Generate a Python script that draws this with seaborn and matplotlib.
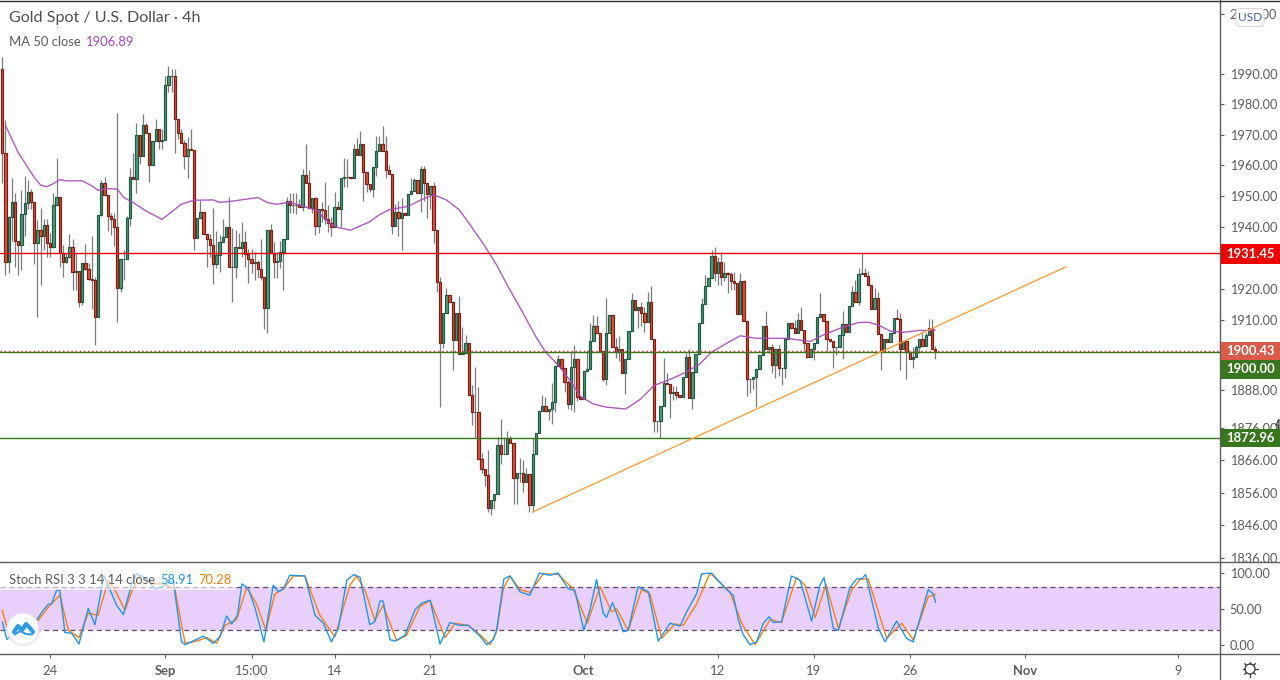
import numpy as np, pandas as pd, matplotlib
matplotlib.use("Agg")
import matplotlib.pyplot as plt
from matplotlib.patches import Rectangle, FancyBboxPatch, Circle
import seaborn as sns

first_open = 1991.8
close = [1964.1,1928.8,1943.3,1948,1935.3,1934,1944.2,1947.6,1951.4,1948,1934.8,1939,1937,1940.7,1934.8,1933.5,1947,1949.5,1931.5,1928.8,
1930.2,1933.5,1925.5,1925.7,1915.8,1928.3,1926.3,1923.3,1923,1911.2,1943.7,1954.3,1950.4,1943.5,1942.6,1939.9,1920.4,1929.6,1929.6,1943,
1956.3,1955.6,1970,1963,1973.3,1970.7,1960.1,1968,1972,1968,1968.3,1986.3,1989.2,1989.3,1975.2,1970.7,1967.4,1963,1965.4,1965.1,
1936.4,1942.9,1944.9,1937.7,1935.9,1934.2,1927.9,1930.9,1935,1936.7,1940,1927.2,1926.9,1933.5,1933,1935,1931.3,1929.6,1928.3,1928.5,
1926.3,1923.7,1913.9,1939,1931.5,1928.8,1929,1931.8,1936,1948.4,1947,1947,1947,1946.5,1956.7,1954.3,1946.2,1949.2,1940.2,1945.6,
1945.5,1942.6,1941.2,1940,1946.3,1945.8,1955.7,1956.1,1956.1,1955.7,1965.3,1963.4,1966.9,1957.7,1953.8,1952.4,1959.3,1964.6,1966.9,1964.6,
1958.5,1957,1940.4,1944.7,1943,1944.5,1943.9,1950.6,1951.7,1955.1,1951.1,1958.6,1954.3,1950.6,1953.2,1939.1,1922.1,1902.7,1912.3,1918,
1915.8,1903.7,1912.3,1899.2,1899.8,1902.7,1886.5,1881.1,1881.1,1866.4,1863.2,1861.5,1851.3,1853.6,1855.5,1870.8,1867.9,1867.9,1872.9,1871.3,
1860.6,1862,1862,1859.3,1861.7,1852.2,1867.9,1874.5,1881.3,1883.1,1881.3,1882,1884.1,1895.6,1897.9,1894.8,1890.4,1883.5,1895.3,1897.7,
1885.7,1885.1,1894.1,1894.5,1903.4,1908.3,1906.1,1900.4,1891.4,1905.9,1911.8,1901.4,1900,1900.8,1893.2,1897.9,1906.7,1916.6,1913.4,1914.2,
1912.3,1909.4,1915.8,1904,1878.4,1878.4,1882.9,1890.2,1889.9,1886.9,1887.3,1886.4,1885.8,1892.1,1898.3,1885.5,1893.5,1899.2,1909.1,1915.2,
1920.8,1923.5,1930.5,1925.1,1928.6,1923.8,1925.1,1924.8,1922.7,1921.9,1912,1922.7,1909.7,1891.5,1891.5,1892.1,1894.6,1899,1908.3,1901,
1901.6,1895.7,1901,1895,1895,1904,1909,1907.5,1906,1910,1906.8,1902.7,1898.3,1901,1902.7,1911.2,1912,1909.7,1904.2,1903.5,
1901.4,1901.4,1905.5,1908.8,1906.4,1914.5,1919,1915.8,1924.9,1925.1,1924.3,1921.4,1913.6,1917.1,1905.6,1900.4,1904,1903,1905.9,1910.9,
1910.4,1900.8,1903.3,1900.1,1897.7,1898.3,1901.7,1904,1902,1905.3,1907.7,1901,1900.43]
high = [1995.7,1974.7,1943.6,1955.7,1951.1,1935,1951.8,1956.5,1955.2,1952.2,1948,1942.3,1946,1942.4,1942.4,1938.1,1951,1962.3,1949.5,1934.2,
1931.5,1937.8,1935.9,1931.5,1925.9,1928.3,1934.4,1928.3,1937.1,1924,1943.7,1955.2,1956.3,1950.4,1944.6,1944.6,1977,1929.6,1932.6,1943.5,
1959.1,1964,1973.9,1970,1976.9,1973.7,1970.7,1968,1975.2,1972,1971.7,1989.4,1992.6,1991.5,1991.7,1975.2,1971.8,1968.3,1969.3,1972,
1965.1,1942.9,1948.8,1944.9,1937.7,1937.7,1946,1938.6,1937.3,1942.4,1940,1949.5,1939.7,1939.1,1938.1,1941.5,1938.6,1932.8,1932.8,1931.9,
1929.2,1935.9,1923.7,1939,1941,1935,1931.9,1935.4,1936,1949.5,1951.1,1951,1951,1949,1958.7,1966.8,1958.5,1949.2,1949.5,1945.6,
1948.1,1954.5,1947.1,1943.2,1951.4,1948.5,1955.7,1962.3,1962.1,1956.3,1966.8,1969,1971.3,1966.9,1957.7,1953.8,1959.3,1969.7,1969.7,1972.9,
1969.5,1960.1,1957,1947.4,1948.3,1949.3,1944.5,1950.6,1955.9,1955.7,1955.1,1959.7,1959.7,1954.3,1953.2,1954.5,1939.1,1924,1912.3,1920.2,
1918,1916.2,1912.3,1917.8,1907.8,1905.4,1902.7,1889.4,1895.1,1888.8,1868.3,1863.2,1869.2,1853.6,1855.5,1873.2,1879,1873.2,1875,1873.6,
1871.3,1862,1866.7,1866.2,1863.5,1861.7,1872.9,1874.5,1881.3,1886.5,1885.7,1882,1890.3,1895.6,1899,1897.9,1894.8,1891.1,1900,1902.2,
1897.7,1885.7,1894.1,1900.5,1909.3,1911.7,1911.5,1906.1,1900.4,1917,1911.8,1911.8,1904.4,1904.9,1900.8,1897.9,1906.7,1918.7,1916.6,1914.2,
1916,1914.2,1919.2,1921,1904,1878.4,1882.9,1898,1893.2,1889.9,1889.3,1889.3,1886.5,1892.1,1899.6,1900.9,1893.5,1899.2,1909.1,1917.1,
1924.5,1923.5,1932.5,1933.4,1930.4,1931.8,1928.6,1925.6,1925.6,1925.6,1921.9,1925,1922.9,1909.7,1891.5,1892.1,1894.6,1899,1908.3,1913,
1901.6,1902.6,1901,1902.1,1895,1904,1909,1909,1910,1912.2,1914.2,1906.8,1902.7,1901,1902.7,1911.2,1918.7,1912,1909.7,1904.2,
1903.5,1901.4,1905.5,1912.9,1908.8,1914.5,1920.8,1923,1926.7,1931.45,1926.7,1925.9,1921.4,1920.3,1919.2,1905.6,1904,1904,1905.9,1910.9,
1913.6,1912.3,1903.3,1903.3,1900.1,1901.6,1902.2,1904,1906,1906,1910.4,1910.4,1902]
low = [1954.3,1924.5,1925,1935.3,1927.2,1924.5,1926,1937,1945.6,1945.6,1928,1911.2,1921.2,1932.6,1930.2,1930.2,1933.2,1946.8,1927.2,1923.9,
1928.2,1929.8,1919.6,1919.6,1914.1,1914.8,1926,1922.9,1913.6,1902.2,1911.2,1943.4,1950,1938.6,1937.2,1933.7,1909.6,1919,1923,1929.6,
1940.4,1955.4,1951,1960.3,1963,1970.7,1954.5,1960.1,1968,1965.2,1965.2,1968.3,1984,1984,1964.1,1968.5,1967.4,1958.7,1955.8,1965,
1932.6,1936.4,1944.3,1937.7,1927.2,1930.2,1921.7,1926.6,1925.5,1935,1936.7,1927.2,1916,1923.6,1933,1930.4,1927.2,1921.8,1925,1923,
1923.6,1922.8,1907.3,1906,1931.5,1923.4,1923.4,1926.6,1919.6,1936,1944.6,1944.6,1944,1946.5,1945,1954.3,1946,1944.6,1937.2,1938,
1941.6,1941,1938.2,1937,1940,1945.8,1940,1953,1953,1955.7,1955.7,1963.4,1963.4,1948.3,1951.2,1951.2,1949.5,1956.4,1964.6,1964.6,
1955.7,1957,1937.6,1940.4,1937.1,1932.5,1943.9,1943.9,1950.6,1951.7,1951.1,1944.7,1948.3,1943,1945.7,1934.9,1919.2,1882.6,1901.3,1912.3,
1915.8,1894.3,1903.7,1899.2,1899.2,1899.8,1886.5,1877,1872.9,1866.4,1862.2,1858.1,1850,1849,1851,1855.5,1864.8,1867.9,1867.9,1871.3,
1852.6,1852.6,1859.3,1856.1,1859.3,1850,1850,1867.9,1874.5,1881.3,1881.3,1878.5,1877.2,1881,1895.6,1894.8,1887.2,1881.9,1881.7,1881.2,
1884.4,1885.1,1885.1,1894.1,1894.5,1903.4,1906.1,1900.4,1890.7,1889.6,1905.9,1901.4,1898.2,1897.1,1893.2,1886.8,1897.9,1906.7,1913.4,1907.5,
1908.1,1906.3,1909.4,1904,1874.8,1874.8,1873,1882.9,1889.9,1879.3,1884.7,1885,1885.8,1885.8,1892.1,1885.5,1881.9,1893.5,1899.2,1909.1,
1915.2,1920.8,1923.5,1922.4,1921.3,1921.3,1922.7,1918.6,1919.8,1919.6,1912,1912,1909.7,1886.2,1887.1,1888.3,1882.6,1894.6,1899,1901,
1899.6,1893.3,1891.7,1892.3,1889.5,1891.6,1904,1907.5,1906,1906,1906.8,1900.4,1898,1898.3,1897.3,1902.7,1911.2,1909.7,1900.4,1903.5,
1894.9,1899,1901.4,1897.7,1906.4,1906.4,1914.5,1915.8,1915,1924.9,1924.3,1921.4,1913.6,1913.6,1905.6,1894.4,1900.4,1903,1903,1905.9,
1910.4,1894.4,1900.8,1891.3,1897.7,1894.9,1898.3,1899.6,1902,1902,1905.3,1901,1897.8]

ma_series = [(1,1973),(5,1964.1),(10,1956),(12,1953.5),(14,1953),(16,1954),(18,1955.3),(20,1954.9),(25,1954.9),(28,1953.3),(30,1951.8),(33,1952.4),(36,1952.2),(38,1949.5),(41,1947.8),(45,1945.1),(50,1942.4),(52,1944),(56,1947.3),(60,1948.6),(66,1948.7),(68,1947.9),(72,1948.3),(76,1948.9),(80,1949.5),(83,1947.8),(86,1947.3),(90,1948),(94,1946.7),(99,1945.1),(100,1943.5),(103,1940.8),(105,1939.8),(109,1938.9),(115,1941.6),(118,1943.9),(121,1945.5),(127,1946.6),(131,1948.7),(135,1950.4),(139,1948.7),(143,1945.5),(147,1939.8),(151,1933.8),(155,1927.2),(158,1921.3),(163,1912.3),(167,1904.8),(170,1900),(174,1895.8),(178,1890.6),(181,1885.9),(185,1883.6),(189,1882.6),(195,1882),(198,1883.9),(200,1885.3),(204,1889.4),(209,1891.3),(213,1893.1),(218,1895.9),(222,1899.9),(227,1902.9),(231,1905.1),(236,1904.3),(241,1904.3),(246,1904.3),(249,1903.8),(253,1903.3),(257,1905.4),(263,1907.8),(268,1909.3),(271,1909.4),(274,1908.6),(278,1906.6),(282,1906.2),(287,1906.8),(292,1906.89)]

k_series = [(0,32),(1.4,7.5),(3.4,15),(6.6,25),(10.7,34),(12.8,48),(14.4,56.5),(15.4,57),(17,76),(18,76),(19.6,17),(21.7,16),(24,1),(26.9,50.5),(29,28),(31.8,96.6),(33.7,77),(35.8,55),(37.9,42),(40.5,85),(42,99),(45.2,92),(47.8,78),(51,83),(53.5,90),(56.1,4),(57.2,0),(58.7,3),(62.9,12),(66,2),(68.1,11),(70.2,40),(71.8,29),(73.6,41),(75,85),(77,78),(79,53),(81.9,4),(84.8,83),(86.4,74),(88,78),(90,97),(94.7,96),(97.9,41),(100.5,30),(103,4),(105.2,23),(107.8,90),(110,98),(112,94),(115,28),(116.6,32),(118.2,61),(119.2,61),(121.3,7),(122.9,5),(126,13),(129.2,49),(131.3,58),(133.9,62),(137,1),(140.1,31),(143.2,27),(145.9,27),(149.5,12),
(151.6,0),(153.7,7),(154.7,20),(157,92),(158.9,96),(162,74),(165.1,69),(168.1,100),(171.4,97),(174,100),(177.1,78),(179.2,76),(182,20),(183.9,48),(186,91),(188.1,44),(189.1,38),(191,59),(194.4,18),(195.9,20),(199,81),(202.2,74),(205.3,5),(209,30),(212.1,26),(214.2,46),(217.3,71),(218.9,99),(222,100),(226.2,79),(228.8,69),(230.4,34),(231.9,14),(234,0),(236.1,4),(238.2,30),(240,39),(241.3,31),(243.9,32),(247,96),(249.7,90),(253.3,33),(255.9,83),(257.2,94),(260.1,23),(261.7,20),(265.3,80),(267.4,92),(269,92),(270.2,98),(274.2,23),(276.3,4),(279.9,33),(283,9),(285.1,4),(289.8,77),(291.4,71),(292.1,58.91)]
d_series = [(0,48),(1.4,25),(10.7,31),(14.9,55),(18,69),(20.7,20),(24,10),(26.9,44),(30,41),(33.2,90),(35.3,76),(38.4,48),(41,80),(43.1,97),(47.3,85),(50.4,85),(54,78),(57.2,2),(60.8,5),(64,10),(67.1,2),(69.7,27),(73.3,35),(76.5,80),(79.6,57),(82.5,20),(85.3,71),(88,78),(91.1,96),(94.7,96),(99.4,41),(104.1,11),(108.8,83),(110.9,96),(113.5,76),(116.6,34),(119.2,55),(123.4,6),(126.5,13),(130.7,53),(133.9,62),(138.6,10),(141.7,30),(145.9,27),(149.5,14),
(152.6,0),(154.7,18),(156.8,78),(158.9,96),(162,77),(165.1,73),(169.3,99),(174,98),(178.7,78),(183.1,30),(187.1,81),(190.7,46),(192.3,50),(195.9,20),(200.1,77),(202.7,71),(206.4,9),(210.5,29),(213.1,27),(217.3,57),(221.5,100),(227.7,74),(231.4,30),(235.6,0),(240.3,35),(243.9,31),(248.6,94),(251.2,83),(254.4,38),(257.8,84),(261.7,23),(265.8,76),(268.4,91),(271,92),(276.8,9),(281.5,30),(285.1,7),(289.8,67),(292.1,70.28)]
ma_idx, ma_val = zip(*ma_series)
k_idx, k_val = zip(*k_series)
d_idx, d_val = zip(*d_series)

trend_idx = [166, 332.9]
trend_val = [1850.0, 1927.1]
resist = 1931.45
last_price = 1900.43
support_a = 1900.0
support_b = 1872.96
price_ticks = [2010,1990,1980,1970,1960,1950,1940,1920,1910,1888,1876,1866,1856,1846,1836]
stoch_ticks = [100,50,0]
x_tick_pos = [15,51,78,104,134,182,224,254,284,320,368]
x_tick_lab = ["24","Sep","15:00","14","21","Oct","12","19","26","Nov","9"]

sns.set_theme(style="white")
plt.rcParams['font.family'] = ['Lato','DejaVu Sans']
GREY = "#5d5d5d"
W, H = 1280, 680
fig = plt.figure(figsize=(12.8, 6.8), dpi=100, facecolor="white")
ax = fig.add_axes([0, (H-562)/H, 1220/W, 562/H])
axs = fig.add_axes([0, (H-654)/H, 1220/W, 92/H])

c = np.array(close); o = np.array(([first_open]+close)[:len(close)])
hi = np.maximum(np.array(high), np.maximum(o,c)); lo = np.minimum(np.array(low), np.minimum(o,c))
idx = np.arange(len(c))
up = c >= o
ax.set_yscale("log")
ax.vlines(idx, lo, hi, color="#7c7c7c", lw=0.9, zorder=2)
ax.bar(idx[up], (c-o)[up], bottom=o[up], width=0.72, color="#4f9a7a", edgecolor="#1f5a42", lw=0.85, zorder=3)
ax.bar(idx[~up], (o-c)[~up], bottom=c[~up], width=0.72, color="#e0503c", edgecolor="#7a1f14", lw=0.85, zorder=3)
sns.lineplot(x=list(ma_idx), y=list(ma_val), ax=ax, color="#ab47bc", lw=1.0, alpha=.9, zorder=4, errorbar=None)
sns.lineplot(x=trend_idx, y=trend_val, ax=ax, color="#ffa040", lw=1.0, zorder=5, errorbar=None)
ax.axhline(resist, color="#e60000", lw=1, zorder=4)
ax.axhline(support_a, color="#38761d", lw=1, zorder=4)
ax.axhline(support_b, color="#38761d", lw=1, zorder=4)
ax.axhline(last_price, color="#c0392b", lw=1, ls=(0,(1,2)), zorder=4)

x0 = -2.3/3.195; x1 = (1220-2.3)/3.195
ax.set_xlim(x0, x1)
ax.set_ylim(1990*np.exp(-(562-74)/6004), 1990*np.exp(74/6004))
ax.yaxis.set_minor_locator(matplotlib.ticker.NullLocator())
ax.yaxis.tick_right()
ax.set_yticks(price_ticks)
ax.set_yticklabels([f"{t:.2f}" for t in price_ticks], fontsize=9.2, color=GREY)
ax.tick_params(axis="y", length=3, width=.8, color=GREY, pad=4, right=True)
ax.set_xticks([])
ax.grid(False)
for s in ax.spines.values(): s.set_visible(False)
ax.set_xlabel(""); ax.set_ylabel("")

axs.axhspan(20, 80, color="#e9cffb", lw=0, zorder=0)
sns.lineplot(x=list(d_idx), y=list(d_val), ax=axs, color="#ff7f0e", lw=1.0, zorder=3, errorbar=None)
sns.lineplot(x=list(k_idx), y=list(k_val), ax=axs, color="#2196f3", lw=1.0, zorder=4, errorbar=None)
axs.axhline(80, color="#5a4a68", lw=.9, ls=(0,(4,3)), zorder=2)
axs.axhline(20, color="#5a4a68", lw=.9, ls=(0,(4,3)), zorder=2)
axs.set_xlim(x0, x1)
axs.set_ylim(-13, 115.5)
axs.yaxis.tick_right()
axs.set_yticks(stoch_ticks)
axs.set_yticklabels([f"{t:.2f}" for t in stoch_ticks], fontsize=9.2, color=GREY)
axs.tick_params(axis="y", length=3, width=.8, color=GREY, pad=4, right=True)
axs.set_xticks(x_tick_pos)
axs.set_xticklabels(x_tick_lab, fontsize=9.4, color=GREY)
axs.tick_params(axis="x", length=3, width=.8, color=GREY, pad=5, bottom=True)
for lab in axs.get_xticklabels():
    if lab.get_text() in ("Sep","Oct","Nov"): lab.set_fontweight("bold")
for s in axs.spines.values(): s.set_visible(False)
axs.set_xlabel(""); axs.set_ylabel("")
axs.grid(False)

# frame: price-axis line and pane separators running across the figure
fig.add_artist(plt.Line2D([1220/W,1220/W],[0,1], color=GREY, lw=1, zorder=4))
for yy, col in [(0.5,"#2a2e39"),(562,GREY),(653.5,GREY)]:
    fig.add_artist(plt.Line2D([0,1],[1-yy/H,1-yy/H], color=col, lw=1, zorder=4))

def px(x, y): return x/W, 1-y/H
fig.text(*px(9,18), "Gold Spot / U.S. Dollar · 4h", fontsize=11.6, color="#4f4f4f", va="center", ha="left")
fig.text(*px(9,41.5), "MA 50 close", fontsize=9.4, color=GREY, va="center")
fig.text(*px(86,41.5), "1906.89", fontsize=9.4, color="#ab47bc", va="center")

fig.add_artist(Rectangle(px(0,590), 235/W, 18/H, transform=fig.transFigure, color="white", alpha=.6, lw=0, zorder=5))
fig.text(*px(9,579.5), "Stoch RSI 3 3 14 14 close", fontsize=9.4, color=GREY, va="center", zorder=6)
fig.text(*px(160,579.5), "58.91", fontsize=9.4, color="#2196f3", va="center", zorder=6)
fig.text(*px(198,579.5), "70.28", fontsize=9.4, color="#ff7f0e", va="center", zorder=6)

def tag(yc, h, text, col):
    fig.add_artist(Rectangle(px(1221,yc+h/2), 59/W, h/H, transform=fig.transFigure, color=col, lw=0, zorder=6))
    fig.text(*px(1250.5,yc), text, fontsize=9.4, color="white", weight="bold", va="center", ha="center", zorder=7)
tag(254, 20, f"{resist:.2f}", "#f00000")
tag(351, 18.5, f"{last_price:.2f}", "#dc5a49")
tag(369.5, 19, f"{support_a:.2f}", "#38761d")
tag(438, 18.5, f"{support_b:.2f}", "#38761d")

fig.add_artist(FancyBboxPatch(px(1236,26.5), 28/W, 18/H, boxstyle="round,pad=0,rounding_size=0.004", transform=fig.transFigure,
                              fc="white", ec="#d8d8d8", lw=.8, zorder=6))
fig.text(*px(1250,17.5), "USD", fontsize=8.6, color="#3f5fa8", va="center", ha="center", zorder=7)

logo = fig.add_axes([0,0,1,1], facecolor="none"); logo.set_xlim(0,W); logo.set_ylim(H,0); logo.axis("off")
logo.add_patch(Circle((23,629), 16, fc="white", ec="#e8e0ee", lw=1))
logo.plot([14,18,22,26,30,33],[632,626,630,624,628,632], color="#2f9be6", lw=3, solid_capstyle="round")
logo.plot([15,20,26,32],[634.5,631,634,634.5], color="#2f9be6", lw=1.5)
logo.fill([1279,1276,1278,1278,1276,1279],[419,425,425,433,433,439], fc="white", ec="#333333", lw=.8, zorder=8)
# settings icon: ring with short rays
logo.add_patch(Circle((1250,669), 5, fc="white", ec="#444444", lw=1))
for a in np.arange(8)*np.pi/4:
    logo.plot([1250+5*np.cos(a),1250+7.5*np.cos(a)],[669+5*np.sin(a),669+7.5*np.sin(a)], color="#444444", lw=1)

fig.savefig("out.png", dpi=100)
